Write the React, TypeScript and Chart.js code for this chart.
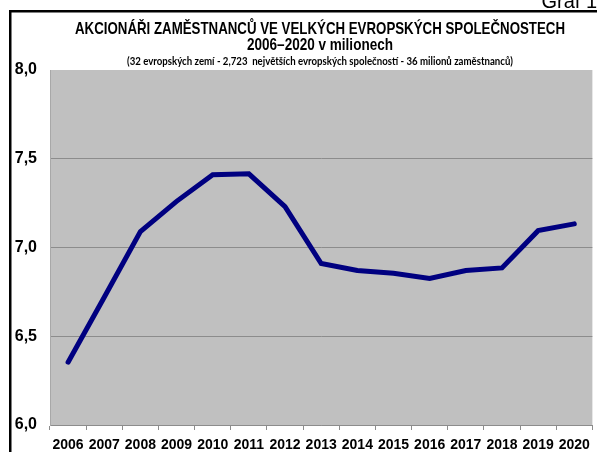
import React, { useEffect, useRef } from "react";
import { Chart, registerables } from "chart.js";

Chart.register(...registerables);

const years = ["2006", "2007", "2008", "2009", "2010", "2011", "2012", "2013", "2014", "2015", "2016", "2017", "2018", "2019", "2020"];
const holders = [6.354, 6.72, 7.09, 7.26, 7.41, 7.415, 7.23, 6.91, 6.87, 6.855, 6.826, 6.87, 6.885, 7.095, 7.133];
const yTicks = [6.0, 6.5, 7.0, 7.5, 8.0];

const titleLine1 = "AKCIONÁŘI ZAMĚSTNANCŮ VE VELKÝCH EVROPSKÝCH SPOLEČNOSTECH";
const titleLine2 = "2006–2020 v milionech";
const titleLine3 = "(32 evropských zemí - 2,723  největších evropských společností - 36 milionů zaměstnanců)";
const cornerLabel = "Graf 1";

const decorPlugin = {
  id: "decor",
  beforeDraw(chart: any) {
    const { ctx, chartArea } = chart;
    ctx.save();
    ctx.fillStyle = "#ffffff";
    ctx.fillRect(0, 0, chart.width, chart.height);
    ctx.fillStyle = "#c0c0c0";
    ctx.fillRect(chartArea.left, chartArea.top, chartArea.right - chartArea.left, chartArea.bottom - chartArea.top);
    ctx.restore();
  },
  afterDraw(chart: any) {
    const { ctx } = chart;
    ctx.save();
    ctx.strokeStyle = "#000000";
    ctx.lineWidth = 2.5;
    ctx.strokeRect(10.25, 11.25, 700, 600);
    ctx.fillStyle = "#000000";
    ctx.textAlign = "right";
    ctx.textBaseline = "alphabetic";
    ctx.font = "20px 'Liberation Sans', Arial, sans-serif";
    ctx.fillText(cornerLabel, 597, 8);
    ctx.textAlign = "center";
    ctx.textBaseline = "middle";
    ctx.font = "bold 17px 'Liberation Sans', Arial, sans-serif";
    ctx.fillText(titleLine1, 320, 29, 490);
    ctx.font = "bold 17px 'Liberation Sans', Arial, sans-serif";
    ctx.fillText(titleLine2, 320, 45, 146);
    ctx.font = "bold 11px Lato, 'Open Sans', sans-serif";
    ctx.fillText(titleLine3, 320, 61, 386);
    ctx.restore();
  },
};

export default function App() {
  const ref = useRef<HTMLCanvasElement | null>(null);
  useEffect(() => {
    if (!ref.current) return;
    const chart = new Chart(ref.current, {
      type: "line",
      data: {
        labels: years,
        datasets: [
          {
            data: holders,
            borderColor: "#000080",
            borderWidth: 5,
            pointRadius: 0,
            tension: 0,
            borderCapStyle: "round",
            borderJoinStyle: "miter",
            fill: false,
          },
        ],
      },
      options: {
        animation: false,
        responsive: false,
        maintainAspectRatio: false,
        layout: { padding: { left: 10, top: 70, right: 4, bottom: 0 } },
        plugins: { legend: { display: false }, tooltip: { enabled: false }, title: { display: false } },
        scales: {
          x: {
            offset: true,
            afterFit: (s: any) => {
              s.height = 27;
            },
            grid: {
              offset: true,
              drawOnChartArea: false,
              drawTicks: true,
              tickLength: 5,
              color: "#8c8c8c",
            },
            border: { display: true, color: "#8c8c8c", width: 1 },
            ticks: {
              color: "#000000",
              padding: 7,
              maxRotation: 0,
              autoSkip: false,
              font: { family: "'Liberation Sans', Arial, sans-serif", size: 14, weight: "bold" },
            },
          },
          y: {
            min: 6,
            max: 8,
            afterFit: (s: any) => {
              s.width = 40;
            },
            afterBuildTicks: (s: any) => {
              s.ticks = yTicks.map((v) => ({ value: v }));
            },
            grid: {
              drawTicks: false,
              color: (c: any) => (c.tick && c.tick.value === 8 ? "rgba(0,0,0,0)" : "#8c8c8c"),
              lineWidth: 1,
            },
            border: { display: true, color: "#a8a8a8", width: 1 },
            ticks: {
              color: "#000000",
              padding: 13,
              callback: (v: any) => Number(v).toFixed(1).replace(".", ","),
              font: { family: "'Liberation Sans', Arial, sans-serif", size: 16, weight: "bold" },
            },
          },
        },
      },
      plugins: [decorPlugin],
    });
    return () => chart.destroy();
  }, []);
  return (
    <div style={{ position: "absolute", left: 0, top: 0, width: 597, height: 452 }}>
      <canvas ref={ref} width={597} height={452} style={{ width: 597, height: 452, display: "block" }} />
    </div>
  );
}
